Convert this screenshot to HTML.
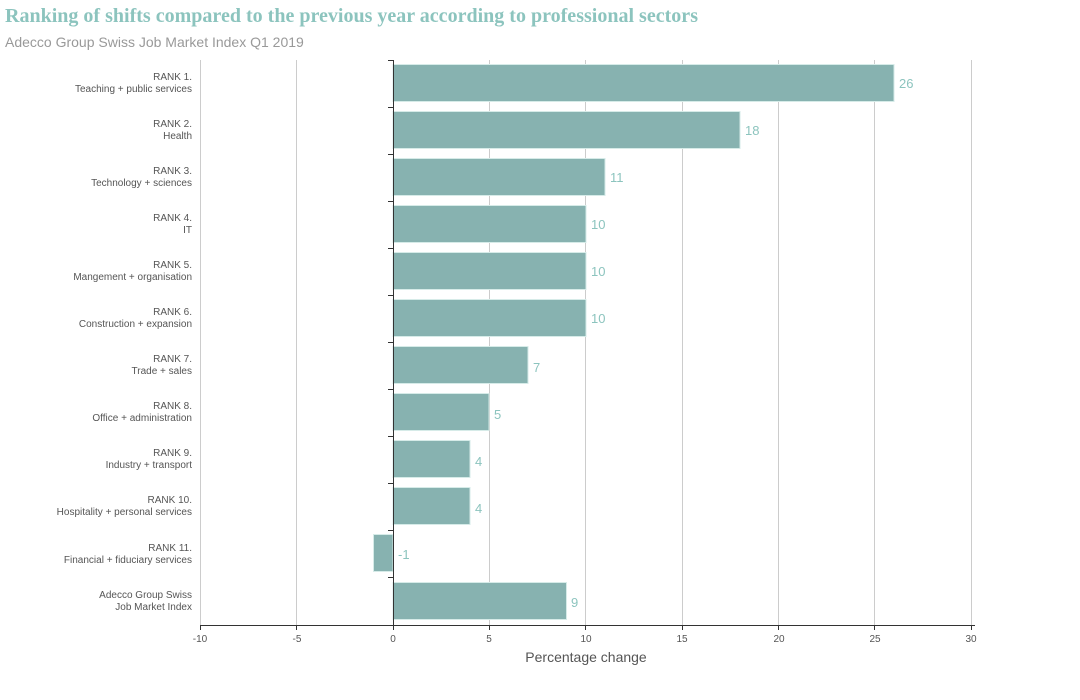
<!DOCTYPE html>
<html><head><meta charset="utf-8"><style>
body{margin:0;background:#fff;width:1080px;height:700px;overflow:hidden}
svg{display:block;font-family:"Liberation Sans",sans-serif}
</style></head><body>
<svg width="1080" height="700" viewBox="0 0 1080 700">
<text x="5" y="22" font-family="Liberation Serif,serif" font-weight="bold" font-size="20" textLength="693" fill="#8cc4be">Ranking of shifts compared to the previous year according to professional sectors</text>
<text x="5" y="47" font-size="14" fill="#999">Adecco Group Swiss Job Market Index Q1 2019</text>
<g stroke="#ccc" stroke-width="1">
<line x1="200.5" y1="60" x2="200.5" y2="625"/>
<line x1="296.5" y1="60" x2="296.5" y2="625"/>
<line x1="489.5" y1="60" x2="489.5" y2="625"/>
<line x1="585.5" y1="60" x2="585.5" y2="625"/>
<line x1="682.5" y1="60" x2="682.5" y2="625"/>
<line x1="778.5" y1="60" x2="778.5" y2="625"/>
<line x1="874.5" y1="60" x2="874.5" y2="625"/>
<line x1="971.5" y1="60" x2="971.5" y2="625"/>
</g>
<g fill="#87b2b0" stroke="#d6ebe8" stroke-width="1">
<rect x="393" y="64.5" width="501" height="37"/>
<rect x="393" y="111.5" width="347" height="37"/>
<rect x="393" y="158.5" width="212" height="37"/>
<rect x="393" y="205.5" width="193" height="37"/>
<rect x="393" y="252.5" width="193" height="37"/>
<rect x="393" y="299.5" width="193" height="37"/>
<rect x="393" y="346.5" width="135" height="37"/>
<rect x="393" y="393.5" width="96" height="37"/>
<rect x="393" y="440.5" width="77" height="37"/>
<rect x="393" y="487.5" width="77" height="37"/>
<rect x="373.5" y="534.5" width="19.5" height="37"/>
<rect x="393" y="582.5" width="173.5" height="37"/>
</g>
<g stroke="#333" stroke-width="1">
<line x1="393.5" y1="60" x2="393.5" y2="625"/>
<line x1="200" y1="625.5" x2="975" y2="625.5"/>
<path d="M388 60.5H393M388 107.5H393M388 154.5H393M388 201.5H393M388 248.5H393M388 295.5H393M388 342.5H393M388 389.5H393M388 436.5H393M388 483.5H393M388 530.5H393M388 577.5H393"/>
<path d="M200.5 625V630M296.5 625V630M393.5 625V630M489.5 625V630M585.5 625V630M682.5 625V630M778.5 625V630M874.5 625V630M971.5 625V630"/>
</g>
<g font-size="10" fill="#555" text-anchor="middle">
<text x="200" y="642">-10</text><text x="297" y="642">-5</text><text x="393" y="642">0</text><text x="489" y="642">5</text><text x="586" y="642">10</text><text x="682" y="642">15</text><text x="779" y="642">20</text><text x="875" y="642">25</text><text x="971" y="642">30</text>
</g>
<text x="586" y="662" font-size="14" fill="#555" text-anchor="middle">Percentage change</text>
<g font-size="13" fill="#8cc4be">
<text x="899" y="88">26</text><text x="745" y="135">18</text><text x="610" y="182">11</text><text x="591" y="229">10</text><text x="591" y="276">10</text><text x="591" y="323">10</text><text x="533" y="372">7</text><text x="494" y="419">5</text><text x="475" y="466">4</text><text x="475" y="513">4</text><text x="398" y="559">-1</text><text x="571" y="607">9</text>
</g>
<g font-size="10" fill="#555" text-anchor="end">
<text x="192" y="80">RANK 1.</text><text x="192" y="92">Teaching + public services</text>
<text x="192" y="127">RANK 2.</text><text x="192" y="139">Health</text>
<text x="192" y="174">RANK 3.</text><text x="192" y="186">Technology + sciences</text>
<text x="192" y="221">RANK 4.</text><text x="192" y="233">IT</text>
<text x="192" y="268">RANK 5.</text><text x="192" y="280">Mangement + organisation</text>
<text x="192" y="315">RANK 6.</text><text x="192" y="327">Construction + expansion</text>
<text x="192" y="362">RANK 7.</text><text x="192" y="374">Trade + sales</text>
<text x="192" y="409">RANK 8.</text><text x="192" y="421">Office + administration</text>
<text x="192" y="456">RANK 9.</text><text x="192" y="468">Industry + transport</text>
<text x="192" y="503">RANK 10.</text><text x="192" y="515">Hospitality + personal services</text>
<text x="192" y="551">RANK 11.</text><text x="192" y="563">Financial + fiduciary services</text>
<text x="192" y="598">Adecco Group Swiss</text><text x="192" y="610">Job Market Index</text>
</g>
</svg>
</body></html>
